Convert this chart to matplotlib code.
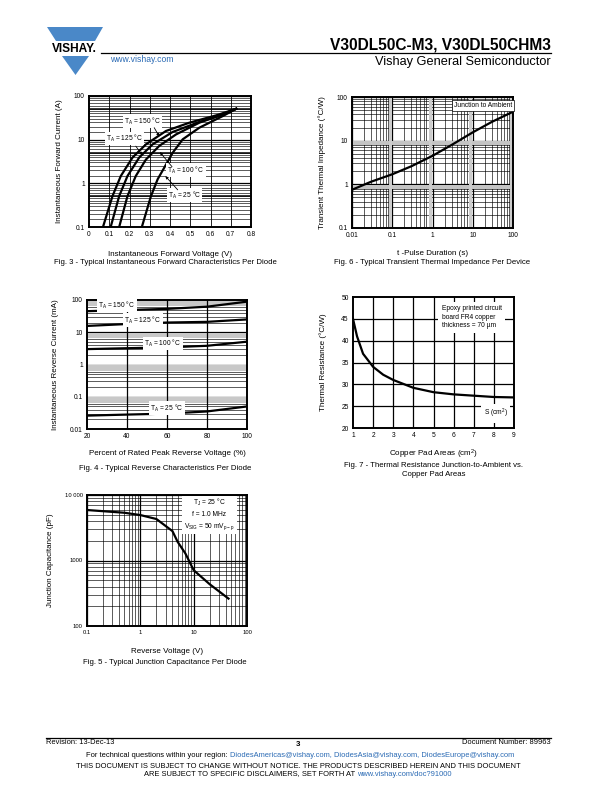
#!/usr/bin/env python3
import numpy as np
import matplotlib
matplotlib.use("Agg")
import matplotlib.pyplot as plt
from matplotlib.patches import Polygon
from matplotlib.ticker import FixedLocator, FuncFormatter, NullLocator

plt.rcParams["font.family"] = ["Liberation Sans", "DejaVu Sans"]
plt.rcParams["mathtext.default"] = "regular"

W, H = 596, 792
BLUE = "#4a88c8"
LINK = "#2a6ab4"

# Fig. 3 - forward characteristics (V, A)
fwd_v_150 = [0.069, 0.116, 0.157, 0.215, 0.281, 0.38, 0.496, 0.628, 0.727]
fwd_i_150 = [0.1, 0.51, 1.47, 3.9, 7.8, 15.8, 24.5, 36, 51]
fwd_v_125 = [0.107, 0.149, 0.19, 0.248, 0.314, 0.413, 0.545, 0.661, 0.727]
fwd_i_125 = [0.1, 0.51, 1.47, 3.9, 7.8, 15, 25.5, 37, 51]
fwd_v_100 = [0.149, 0.19, 0.231, 0.281, 0.347, 0.43, 0.545, 0.661, 0.727]
fwd_i_100 = [0.1, 0.51, 1.47, 3.5, 7.2, 13.2, 24.5, 38, 51]
fwd_v_25 = [0.261, 0.306, 0.339, 0.372, 0.413, 0.463, 0.545, 0.661, 0.727]
fwd_i_25 = [0.1, 0.51, 1.24, 2.3, 5.0, 10.2, 18.8, 34.8, 51]

# Fig. 6 - transient thermal impedance
zth_t = [0.01, 0.03, 0.1, 0.3, 1, 3, 10, 30, 100]
zth_z = [0.75, 1.15, 1.7, 2.6, 4.5, 8, 15.5, 27, 46]

# Fig. 4 - reverse characteristics (% VRRM, mA)
rev_pct = [20, 40, 60, 80, 100]
rev_i_150 = [45, 49, 53, 62, 89]
rev_i_125 = [15.7, 18, 20, 21, 25]
rev_i_100 = [3.0, 3.2, 3.4, 3.8, 5.1]
rev_i_25 = [0.026, 0.028, 0.030, 0.035, 0.050]

# Fig. 7 - thermal resistance vs copper pad area
pad_area = [1, 1.2, 1.5, 2, 2.5, 3, 4, 5, 6, 7, 8, 9]
pad_rth = [45, 41, 37, 34, 32.2, 31, 29.2, 28.2, 27.7, 27.4, 27.1, 27]

# Fig. 5 - junction capacitance
cap_v = [0.1, 0.5, 1, 2, 4, 5, 7, 10, 20, 45]
cap_c = [5900, 5360, 4940, 4300, 2810, 1930, 1280, 711, 434, 262]

TICK_FS = 4.8
LABEL_FS = 5.8
CAP_FS = 5.6
FOOT_FS = 5.4


def px_axes(fig, left, right, top, bottom):
    return fig.add_axes([left / W, 1 - bottom / H, (right - left) / W, (bottom - top) / H])


def fig_text(fig, x, y, s, **kw):
    fig.text(x / W, 1 - y / H, s, **kw)


def style_axes(ax):
    for sp in ax.spines.values():
        sp.set_linewidth(1.4)
        sp.set_color("black")
    ax.tick_params(which="both", length=0, labelsize=TICK_FS, pad=3)
    ax.set_axisbelow(True)


def plain(v, _pos=None):
    return f"{v:g}"


def log_grid(ax, axis, lo, hi, subs):
    decades = [10.0 ** k for k in range(int(np.log10(lo)), int(np.log10(hi)))]
    minor = [d * s for d in decades for s in subs]
    line = ax.axhline if axis == "y" else ax.axvline
    for v in minor:
        line(v, color="black", lw=0.45, zorder=0)
    for d in decades + [hi]:
        line(d, color="black", lw=0.9, zorder=0)


def tag(ax, x, y, s):
    ax.text(x, y, s, fontsize=4.8, ha="center", va="center",
            bbox=dict(boxstyle="square,pad=0.15", fc="white", ec="none"), zorder=5)


def arrow(ax, x0, y0, x1, y1):
    ax.annotate("", xy=(x1, y1), xytext=(x0, y0),
                arrowprops=dict(arrowstyle="-|>", lw=0.6, color="black",
                                mutation_scale=4, shrinkA=0, shrinkB=0), zorder=6)


fig = plt.figure(figsize=(W / 100, H / 100), dpi=100)

# ---------------- header ----------------
fig.patches.append(Polygon([[47 / W, 1 - 27 / H], [103 / W, 1 - 27 / H], [95 / W, 1 - 41 / H],
                            [56 / W, 1 - 41 / H]], closed=True, fc=BLUE, ec="none",
                           transform=fig.transFigure, figure=fig))
fig.patches.append(Polygon([[62 / W, 1 - 56 / H], [89 / W, 1 - 56 / H], [75.5 / W, 1 - 75 / H]],
                           closed=True, fc=BLUE, ec="none", transform=fig.transFigure, figure=fig))
fig_text(fig, 74, 48.5, "VISHAY.", fontsize=8.6, fontweight="bold", ha="center", va="center")
fig.add_artist(plt.Line2D([101 / W, 551 / W], [1 - 52.5 / H, 1 - 52.5 / H], color="black", lw=0.9))
fig_text(fig, 551, 49, "V30DL50C-M3, V30DL50CHM3", fontsize=11.2, fontweight="bold",
         ha="right", va="baseline")
fig_text(fig, 551, 62, "Vishay General Semiconductor", fontsize=9.2, ha="right", va="center")
fig_text(fig, 110, 59, "www.vishay.com", fontsize=6.2, color=LINK, ha="left", va="center")

# ---------------- Fig. 3 ----------------
ax = px_axes(fig, 89, 251, 96, 227)
style_axes(ax)
ax.set_yscale("log")
ax.set_xlim(0, 0.8)
ax.set_ylim(0.1, 100)
log_grid(ax, "y", 0.1, 100, [1.5, 2, 2.5, 3, 3.5, 4, 4.5, 5, 6, 7, 8, 9])
for yy in [0.5, 5, 50]:
    ax.axhline(yy, color="black", lw=1.1, zorder=0)
for xx in np.arange(0.1, 0.8, 0.1):
    ax.axvline(xx, color="black", lw=0.6, zorder=0)
for vv, ii in [(fwd_v_150, fwd_i_150), (fwd_v_125, fwd_i_125),
               (fwd_v_100, fwd_i_100), (fwd_v_25, fwd_i_25)]:
    ax.plot(vv, ii, color="black", lw=1.6, zorder=3)
ax.set_xticks([0, 0.1, 0.2, 0.3, 0.4, 0.5, 0.6, 0.7, 0.8])
ax.xaxis.set_major_formatter(FuncFormatter(plain))
ax.yaxis.set_major_locator(FixedLocator([0.1, 1, 10, 100]))
ax.yaxis.set_major_formatter(FuncFormatter(plain))
ax.yaxis.set_minor_locator(NullLocator())
tag(ax, 0.264, 26.8, "T$_A$ = 150 °C")
tag(ax, 0.174, 10.7, "T$_A$ = 125 °C")
tag(ax, 0.479, 2.02, "T$_A$ = 100 °C")
tag(ax, 0.471, 0.54, "T$_A$ = 25 °C")
arrow(ax, 0.322, 18.8, 0.347, 11.8)
arrow(ax, 0.231, 7.1, 0.264, 4.4)
arrow(ax, 0.41, 2.4, 0.35, 5.2)
arrow(ax, 0.438, 0.71, 0.377, 1.47)
ax.set_xlabel("Instantaneous Forward Voltage (V)", fontsize=LABEL_FS, labelpad=9)
ax.set_ylabel("Instantaneous Forward Current (A)", fontsize=LABEL_FS, labelpad=8)
fig_text(fig, 165, 262, "Fig. 3 - Typical Instantaneous Forward Characteristics Per Diode",
         fontsize=CAP_FS, ha="center", va="center")

# ---------------- Fig. 6 ----------------
ax = px_axes(fig, 352, 513, 97, 228)
style_axes(ax)
ax.set_xscale("log")
ax.set_yscale("log")
ax.set_xlim(0.01, 100)
ax.set_ylim(0.1, 100)
log_grid(ax, "x", 0.01, 100, [2, 3, 4, 5, 6, 7, 8, 9])
log_grid(ax, "y", 0.1, 100, [2, 3, 4, 5, 6, 7, 8, 9])
for d in [1, 10]:
    ax.axhspan(d * 0.8, d * 0.98, color="#c4c4c4", lw=0, zorder=0)
for d in [0.01, 0.1, 1, 10]:
    ax.axvspan(d * 8.2, d * 9.6, color="#cccccc", lw=0, zorder=0)
ax.plot(zth_t, zth_z, color="black", lw=1.6, zorder=3)
ax.xaxis.set_major_locator(FixedLocator([0.01, 0.1, 1, 10, 100]))
ax.xaxis.set_major_formatter(FuncFormatter(plain))
ax.yaxis.set_major_locator(FixedLocator([0.1, 1, 10, 100]))
ax.yaxis.set_major_formatter(FuncFormatter(plain))
ax.xaxis.set_minor_locator(NullLocator())
ax.yaxis.set_minor_locator(NullLocator())
ax.text(0.995, 0.965, "Junction to Ambient", transform=ax.transAxes, fontsize=4.8,
        ha="right", va="top", zorder=5,
        bbox=dict(boxstyle="square,pad=0.3", fc="white", ec="black", lw=0.5))
ax.set_xlabel("t -Pulse Duration (s)", fontsize=LABEL_FS, labelpad=8)
ax.set_ylabel("Transient Thermal Impedance (°C/W)", fontsize=LABEL_FS, labelpad=8)
fig_text(fig, 432, 262, "Fig. 6 - Typical Transient Thermal Impedance Per Device",
         fontsize=CAP_FS, ha="center", va="center")

# ---------------- Fig. 4 ----------------
ax = px_axes(fig, 87, 247, 300, 429)
style_axes(ax)
ax.set_yscale("log")
ax.set_xlim(20, 100)
ax.set_ylim(0.01, 100)
log_grid(ax, "y", 0.01, 100, [2, 3, 4, 5, 6, 7, 8, 9])
for d in [0.01, 0.1, 1, 10]:
    ax.axhspan(d * 6.5, d * 9.8, color="#c8c8c8", lw=0, zorder=0)
for xx in [40, 60, 80]:
    ax.axvline(xx, color="black", lw=0.9, zorder=0)
for ii in [rev_i_150, rev_i_125, rev_i_100, rev_i_25]:
    ax.plot(rev_pct, ii, color="black", lw=1.6, zorder=3)
ax.set_xticks([20, 40, 60, 80, 100])
ax.yaxis.set_major_locator(FixedLocator([0.01, 0.1, 1, 10, 100]))
ax.yaxis.set_major_formatter(FuncFormatter(plain))
ax.yaxis.set_minor_locator(NullLocator())
tag(ax, 35, 70, "T$_A$ = 150 °C")
tag(ax, 48, 24, "T$_A$ = 125 °C")
tag(ax, 58, 4.6, "T$_A$ = 100 °C")
tag(ax, 60, 0.045, "T$_A$ = 25 °C")
ax.set_xlabel("Percent of Rated Peak Reverse Voltage (%)", fontsize=LABEL_FS, labelpad=7)
ax.set_ylabel("Instantaneous Reverse Current (mA)", fontsize=LABEL_FS, labelpad=8)
fig_text(fig, 165, 468, "Fig. 4 - Typical Reverse Characteristics Per Diode",
         fontsize=CAP_FS, ha="center", va="center")

# ---------------- Fig. 7 ----------------
ax = px_axes(fig, 353, 514, 297, 428)
style_axes(ax)
ax.set_xlim(1, 9)
ax.set_ylim(20, 50)
for xx in range(2, 9):
    ax.axvline(xx, color="black", lw=0.9, zorder=0)
for yy in range(25, 50, 5):
    ax.axhline(yy, color="black", lw=0.9, zorder=0)
ax.plot(pad_area, pad_rth, color="black", lw=1.6, zorder=3)
ax.set_xticks(range(1, 10))
ax.set_yticks(range(20, 51, 5))
ax.text(0.55, 0.94, "Epoxy printed circuit\nboard FR4 copper\nthickness = 70 µm",
        transform=ax.transAxes, fontsize=4.8, ha="left", va="top", linespacing=1.35, zorder=5,
        bbox=dict(boxstyle="square,pad=0.5", fc="white", ec="none"))
ax.text(0.96, 0.06, "S (cm$^2$)", transform=ax.transAxes, fontsize=4.8, ha="right",
        va="bottom", zorder=5, bbox=dict(boxstyle="square,pad=0.4", fc="white", ec="none"))
ax.set_xlabel("Copper Pad Areas (cm$^2$)", fontsize=LABEL_FS, labelpad=6)
ax.set_ylabel("Thermal Resistance (°C/W)", fontsize=LABEL_FS, labelpad=10)
fig_text(fig, 434, 466, "Fig. 7 - Thermal Resistance Junction-to-Ambient vs.",
         fontsize=CAP_FS, ha="center", va="center")
fig_text(fig, 434, 475, "Copper Pad Areas", fontsize=CAP_FS, ha="center", va="center")

# ---------------- Fig. 5 ----------------
ax = px_axes(fig, 87, 247, 495, 626)
style_axes(ax)
ax.set_xscale("log")
ax.set_yscale("log")
ax.set_xlim(0.1, 100)
ax.set_ylim(100, 10000)
log_grid(ax, "x", 0.1, 100, [2, 3, 4, 5, 6, 7, 8, 9])
log_grid(ax, "y", 100, 10000, [2, 3, 4, 5, 6, 7, 8, 9])
ax.plot(cap_v, cap_c, color="black", lw=1.6, zorder=3)
ax.xaxis.set_major_locator(FixedLocator([0.1, 1, 10, 100]))
ax.xaxis.set_major_formatter(FuncFormatter(plain))
ax.yaxis.set_major_locator(FixedLocator([100, 1000, 10000]))
ax.yaxis.set_major_formatter(FuncFormatter(lambda v, p: "10 000" if v >= 10000 else f"{v:g}"))
ax.xaxis.set_minor_locator(NullLocator())
ax.yaxis.set_minor_locator(NullLocator())
ax.tick_params(labelsize=4.2)
ax.text(0.765, 0.85, "T$_J$ = 25 °C\nf = 1.0 MHz\nV$_{SIG}$ = 50 mV$_{p-p}$",
        transform=ax.transAxes, fontsize=4.8, ha="center", va="center", linespacing=1.5,
        zorder=5, bbox=dict(boxstyle="square,pad=0.35", fc="white", ec="none"))
ax.set_xlabel("Reverse Voltage (V)", fontsize=LABEL_FS, labelpad=9)
ax.set_ylabel("Junction Capacitance (pF)", fontsize=LABEL_FS, labelpad=8)
fig_text(fig, 165, 663, "Fig. 5 - Typical Junction Capacitance Per Diode",
         fontsize=CAP_FS, ha="center", va="center")

# ---------------- footer ----------------
fig.add_artist(plt.Line2D([46 / W, 551 / W], [1 - 737.5 / H, 1 - 737.5 / H], color="black", lw=0.9))
fig_text(fig, 46, 743, "Revision: 13-Dec-13", fontsize=FOOT_FS, ha="left", va="center")
fig_text(fig, 298, 744, "3", fontsize=5.6, fontweight="bold", ha="center", va="center")
fig_text(fig, 551, 743, "Document Number: 89963", fontsize=FOOT_FS, ha="right", va="center")
fig_text(fig, 228, 755.5, "For technical questions within your region:", fontsize=FOOT_FS,
         ha="right", va="center")
fig_text(fig, 230, 755.5, "DiodesAmericas@vishay.com, DiodesAsia@vishay.com, DiodesEurope@vishay.com",
         fontsize=FOOT_FS, ha="left", va="center", color=LINK)
fig_text(fig, 298, 767, "THIS DOCUMENT IS SUBJECT TO CHANGE WITHOUT NOTICE. THE PRODUCTS DESCRIBED HEREIN AND THIS DOCUMENT",
         fontsize=FOOT_FS, ha="center", va="center")
fig_text(fig, 355, 774, "ARE SUBJECT TO SPECIFIC DISCLAIMERS, SET FORTH AT", fontsize=FOOT_FS,
         ha="right", va="center")
fig_text(fig, 357, 774, "www.vishay.com/doc?91000", fontsize=FOOT_FS, ha="left", va="center",
         color=LINK)

fig.savefig("out.png", dpi=100)
